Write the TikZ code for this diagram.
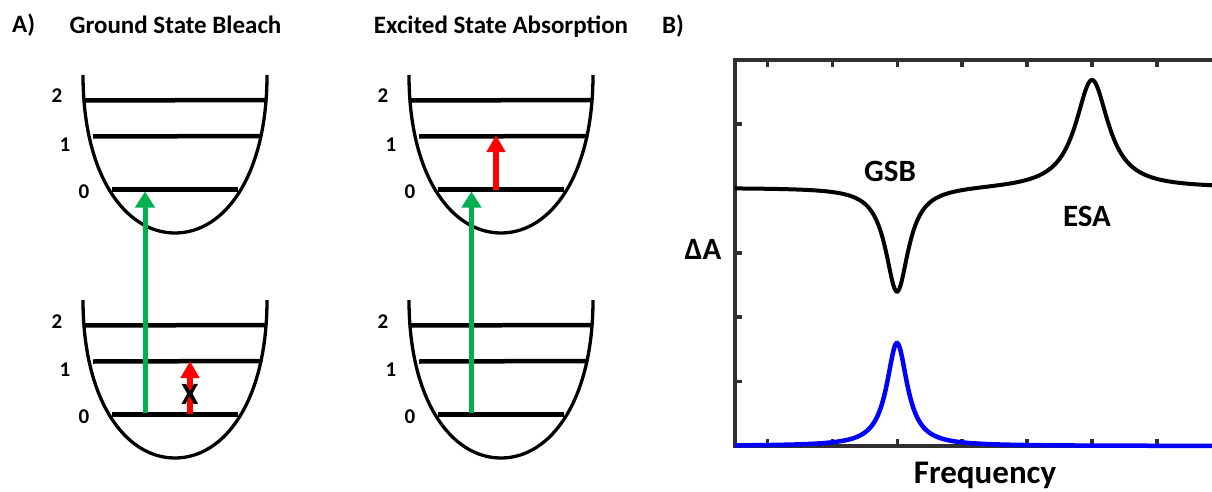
\documentclass[tikz,border=0pt]{standalone}
\usepackage{fontspec}
\setmainfont{Carlito}
\usetikzlibrary{arrows.meta}
\definecolor{pumpgreen}{HTML}{00B050}
\definecolor{probered}{HTML}{FF0000}
\definecolor{axisgray}{HTML}{303030}
\definecolor{probeblue}{HTML}{0000FF}
\begin{document}
\begin{tikzpicture}[x=1pt,y=-1pt,
  title/.style={font=\fontsize{25}{28}\selectfont\bfseries, inner sep=0pt, anchor=base},
  numlbl/.style={font=\fontsize{21}{24}\selectfont\bfseries, inner sep=0pt, anchor=base},
  biglbl/.style={font=\fontsize{31}{34}\selectfont\bfseries, inner sep=0pt, anchor=base},
  wellline/.style={draw=black, line width=3.3pt},
  levelline/.style={draw=black, line width=4.5pt},
  pump/.style={draw=pumpgreen, line width=5pt, -{Triangle[width=19pt,length=16pt]}},
  probe/.style={draw=probered, line width=5.5pt, -{Triangle[width=18pt,length=17pt]}},
  axisline/.style={draw=axisgray, line width=4pt},
  tickline/.style={draw=axisgray, line width=3.5pt},
  speccurve/.style={draw=black, line width=4pt},
  bluecurve/.style={draw=probeblue, line width=4.5pt}]
\useasboundingbox (0,0) rectangle (1212,492);

% panel labels and titles
\node[title, anchor=base west] (labA) at (12,33) {A)};
\node[title] (tGSB) at (175.5,34) {Ground State Bleach};
\node[title] (tESA) at (501,33.5) {Excited State Absorption};
\node[title, anchor=base west] (labB) at (662,34) {B)};

% potential wells
\foreach \dx/\dy/\n in {0/0/a, 0/225/b, 326/0/c, 326/225/d}{
  \begin{scope}[shift={(\dx,\dy)}]
    \draw[wellline] (83,75) .. controls (83,175) and (125,233) .. (175,233)
                            .. controls (225,233) and (267,175) .. (267,75);
    \draw[levelline] (85,100.5) -- (265,100);
    \draw[levelline] (93,136.5) -- (262,136);
    \draw[levelline] (112,189.5) -- (238,189.5);
    \node[numlbl] (two-\n) at (57,103) {2};
    \node[numlbl] (one-\n) at (65,151) {1};
    \node[numlbl] (zero-\n) at (84,198) {0};
  \end{scope}
}

% transitions
\coordinate (gsbpumpS) at (145,413);
\coordinate (gsbpumpE) at (145,191.5);
\coordinate (gsbprobeS) at (190,414);
\coordinate (gsbprobeE) at (190,361);
\coordinate (esapumpS) at (471.5,413);
\coordinate (esapumpE) at (471.5,191.5);
\coordinate (esaprobeS) at (496,189.5);
\coordinate (esaprobeE) at (496,135);
\draw[pump] (gsbpumpS) -- (gsbpumpE);
\draw[probe] (gsbprobeS) -- (gsbprobeE);
\node[biglbl] (blocked) at (190,404) {X};
\draw[pump] (esapumpS) -- (esapumpE);
\draw[probe] (esaprobeS) -- (esaprobeE);

% panel B axes
\draw[axisline] (1212,60) -- (735,60) -- (735,446) -- (1212,446);
\foreach \i in {0,...,6}{
  \draw[tickline] ({767.5+64.9*\i},60) -- ++(0,7);
  \draw[tickline] ({767.5+64.9*\i},446) -- ++(0,-7);
}
\foreach \j in {1,...,5}{
  \draw[tickline] (735,{446-64.4*\j}) -- ++(7,0);
}

% spectra
\draw[bluecurve] plot[domain=735:1212, samples=480]
  (\x, {446-103/(1+((\x-897)/12.5)^2)});
\draw[speccurve] plot[domain=735:1212, samples=480]
  (\x, {188+104.8/(1+((\x-897)/14)^2)-108.6/(1+((\x-1092)/20)^2)});

\node[biglbl] (gsbtxt) at (890,181.5) {GSB};
\node[biglbl] (esatxt) at (1087,226) {ESA};
\node[biglbl] (dA) at (703,259) {ΔA};
\node[biglbl, font=\fontsize{33}{36}\selectfont\bfseries] (freq) at (985,483) {Frequency};
\end{tikzpicture}
\end{document}
